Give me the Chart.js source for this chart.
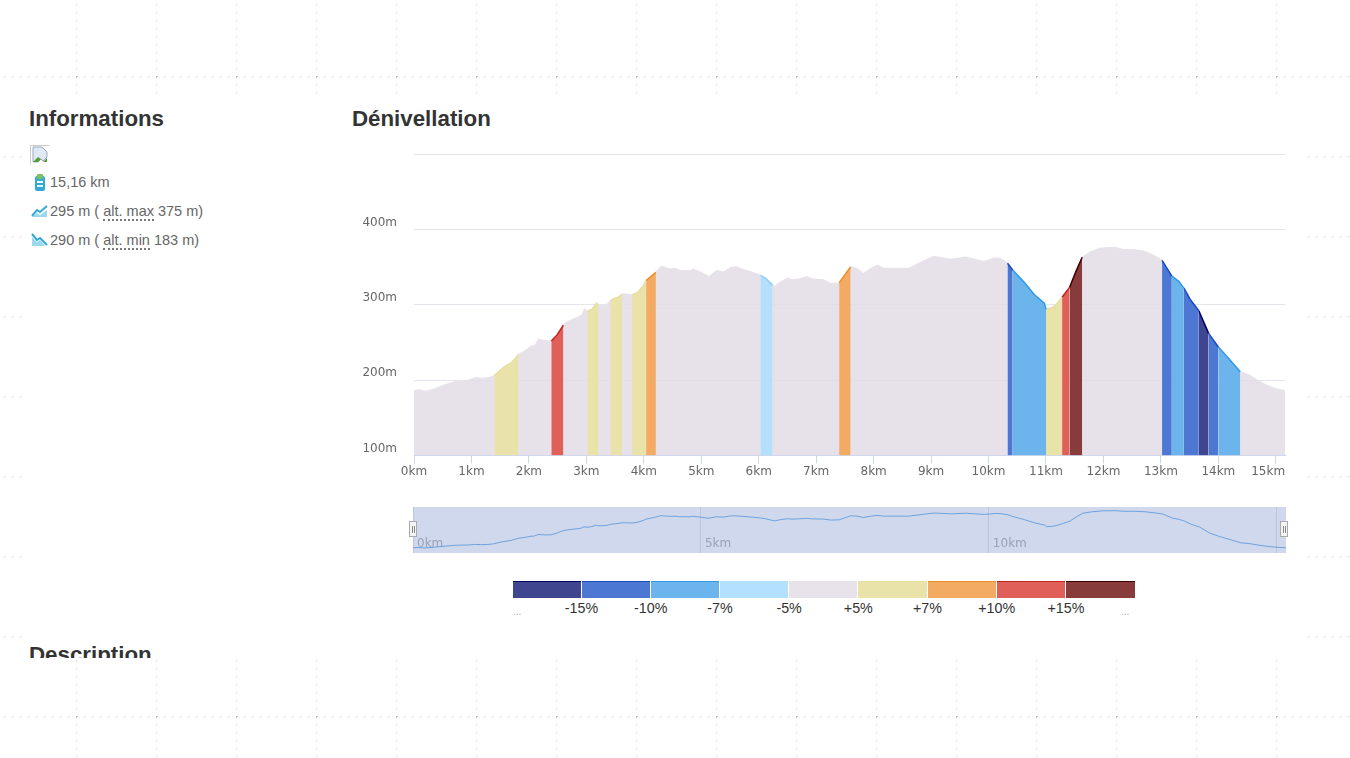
<!DOCTYPE html>
<html lang="fr">
<head>
<meta charset="utf-8">
<title>Dénivellation</title>
<script src="https://cdn.jsdelivr.net/npm/chart.js@4"></script>
<style>
    html, body { margin: 0; padding: 0; width: 1350px; height: 758px; overflow: hidden; background: #fff; }
    body {
        font-family: "Liberation Sans", Arial, sans-serif;
        color: #666;
        background-image: url("data:image/svg+xml,%3Csvg xmlns='http://www.w3.org/2000/svg' width='80' height='80'%3E%3Cdefs%3E%3Cpath id='d' d='M-1.5 0H1.5M0 -1.5V1.5' stroke='%23ececec' stroke-width='1'/%3E%3C/defs%3E%3Cg transform='translate(.5 .5)'%3E%3Cuse href='%23d' x='8'/%3E%3Cuse href='%23d' x='16'/%3E%3Cuse href='%23d' x='24'/%3E%3Cuse href='%23d' x='32'/%3E%3Cuse href='%23d' x='40'/%3E%3Cuse href='%23d' x='48'/%3E%3Cuse href='%23d' x='56'/%3E%3Cuse href='%23d' x='64'/%3E%3Cuse href='%23d' x='72'/%3E%3Cuse href='%23d' y='8'/%3E%3Cuse href='%23d' y='16'/%3E%3Cuse href='%23d' y='24'/%3E%3Cuse href='%23d' y='32'/%3E%3Cuse href='%23d' y='40'/%3E%3Cuse href='%23d' y='48'/%3E%3Cuse href='%23d' y='56'/%3E%3Cuse href='%23d' y='64'/%3E%3Cuse href='%23d' y='72'/%3E%3Cpath d='M-1.5 0H1.5M0 -1.5V1.5' stroke='%23bbb' stroke-width='1'/%3E%3C/g%3E%3C/svg%3E");
        background-position: 76px 76px;
    }
    #panel { position: absolute; left: 22px; top: 95px; width: 1284px; height: 563px; background: #fff; overflow: hidden; }
    h2 { position: absolute; margin: 0; font-size: 22.3px; line-height: 28px; font-weight: bold; color: #333; white-space: nowrap; }
    .info { position: absolute; left: 28px; font-size: 14.5px; line-height: 18px; color: #666; white-space: nowrap; }
    .info abbr { text-decoration: none; border-bottom: 2px dotted #777; }
    .icon { position: absolute; }
    canvas { position: absolute; display: block; }
    .handle { position: absolute; top: 521px; width: 6px; height: 14px; background: #f4f4f4; border: 1.5px solid #aaa; }
    .handle::before { content: ""; position: absolute; left: 1.5px; top: 3.5px; width: 1px; height: 7px; background: #888; box-shadow: 2px 0 0 #888; }
    #legendBars { position: absolute; left: 513px; top: 581px; width: 623px; height: 17px; display: flex; gap: 1px; }
    #legendBars div { flex: none; width: 68.1px; box-sizing: border-box; border-top: 1px solid; }
    #legendBars div:last-child { width: 69.1px; }
    .legendLabel { position: absolute; top: 600px; width: 70px; margin-left: -35px; text-align: center; font-size: 14.3px; line-height: 16px; color: #333; }
    .dots { position: absolute; top: 606px; font-size: 10px; line-height: 12px; color: #aaa; }
</style>
</head>
<body>
<div id="panel">
    <h2 style="left:7px;top:10px">Informations</h2>
    <h2 style="left:330px;top:10px">Dénivellation</h2>
    <h2 style="left:7px;top:546px">Description</h2>

    <svg class="icon" style="left:8px;top:50px" width="20" height="20" viewBox="0 0 20 20">
        <path d="M.5 19.5V.5H19.5" fill="none" stroke="#ccc"/>
        <path d="M3 2h9l5 5v5l-4 4-2-2-3 3H3z" fill="#dfe9f6" stroke="#9ab"/>
        <path d="M3 17l5-5 3 2-3 3z" fill="#5a9a3c"/>
        <path d="M13 17l4-4v4z" fill="#5a9a3c"/>
    </svg>
    <svg class="icon" style="left:11px;top:79px" width="14" height="17" viewBox="0 0 14 17">
        <rect x="2" y="2" width="10" height="15" rx="2" fill="#35a8d8"/>
        <rect x="4" y="0" width="6" height="5" rx="1" fill="#7cc060"/>
        <rect x="4" y="7" width="6" height="2" fill="#fff"/>
        <rect x="4" y="11" width="6" height="2" fill="#dff"/>
    </svg>
    <svg class="icon" style="left:9px;top:108px" width="18" height="15" viewBox="0 0 18 15">
        <path d="M1 13l5-6 3 2 7-6" fill="none" stroke="#35a8d8" stroke-width="2"/>
        <path d="M1 14l5-4 3 2 7-5v7z" fill="#9bd8ee"/>
    </svg>
    <svg class="icon" style="left:9px;top:137px" width="18" height="15" viewBox="0 0 18 15">
        <path d="M1 2l5 6 3-2 7 7" fill="none" stroke="#35a8d8" stroke-width="2"/>
        <path d="M1 5l5 5 3-2 5 6H1z" fill="#9bd8ee"/>
    </svg>
    <div class="info" style="top:78px">15,16 km</div>
    <div class="info" style="top:107px">295 m ( <abbr>alt. max</abbr> 375 m)</div>
    <div class="info" style="top:136px">290 m ( <abbr>alt. min</abbr> 183 m)</div>
</div>

<canvas id="profileChart" width="950" height="345" style="left:350px;top:140px"></canvas>
<canvas id="navChart" width="873" height="46" style="left:413px;top:507px"></canvas>
<div class="handle" style="left:409px"></div>
<div class="handle" style="left:1280px"></div>

<div id="legendBars"></div>
<div id="legendText"></div>

<script>
const distanceKm = [
    0, 0.09, 0.2, 0.35, 0.52, 0.75, 0.96, 1.07, 1.19, 1.3, 1.4, 1.56, 1.71, 1.82, 1.94, 2.05, 2.11, 2.17, 2.29, 2.39,
    2.49, 2.6, 2.66, 2.81, 2.92, 2.97, 3.02, 3.1, 3.18, 3.21, 3.3, 3.37, 3.42, 3.47, 3.56, 3.62, 3.71, 3.79, 3.89, 4.0,
    4.04, 4.21, 4.31, 4.37, 4.46, 4.55, 4.63, 4.81, 4.86, 4.99, 5.13, 5.27, 5.39, 5.51, 5.6, 5.71, 5.89, 6.03, 6.12, 6.24,
    6.28, 6.38, 6.5, 6.58, 6.7, 6.84, 6.93, 7.13, 7.25, 7.4, 7.51, 7.6, 7.71, 7.82, 7.95, 8.07, 8.18, 8.61, 8.82, 9.05,
    9.34, 9.6, 9.92, 10.12, 10.21, 10.33, 10.42, 10.62, 10.79, 10.97, 11.0, 11.11, 11.2, 11.28, 11.41, 11.52, 11.63, 11.78, 11.95, 12.21,
    12.33, 12.53, 12.7, 12.88, 13.02, 13.19, 13.31, 13.4, 13.51, 13.66, 13.83, 14.0, 14.21, 14.38, 14.53, 14.67, 14.84, 15.02, 15.16
];
const altitudeM = [
    186, 187, 185, 188, 193, 199, 200, 203, 202, 203, 206, 217, 224, 234, 239, 245, 246, 254, 252, 252,
    260, 273, 277, 282, 286, 294, 291, 294, 302, 299, 299, 301, 305, 308, 310, 314, 314, 313, 316, 326,
    332, 343, 351, 349, 347, 348, 345, 345, 347, 343, 337, 345, 343, 349, 350, 347, 343, 339, 335, 326,
    324, 330, 335, 333, 334, 337, 334, 333, 328, 329, 341, 350, 348, 341, 348, 352, 348, 348, 356, 364,
    360, 363, 357, 362, 361, 355, 346, 330, 314, 302, 294, 296, 302, 310, 323, 344, 363, 370, 375, 376,
    373, 373, 371, 365, 359, 338, 331, 322, 307, 292, 262, 244, 226, 211, 207, 200, 193, 188, 186
];

// tronçons colorés : début, fin, classe de pente
const segmentStart = [1.4, 2.39, 3.02, 3.42, 3.79, 4.04, 6.03, 7.4, 10.33, 10.42, 11.0, 11.28, 11.41, 13.02, 13.19, 13.4, 13.66, 13.83, 14.0];
const segmentEnd = [1.82, 2.6, 3.21, 3.62, 4.04, 4.21, 6.24, 7.6, 10.42, 11.0, 11.28, 11.41, 11.63, 13.19, 13.4, 13.66, 13.83, 14.0, 14.38];
const segmentClass = ["+5", "+10", "+5", "+5", "+5", "+7", "-5", "+7", "-10", "-7", "+5", "+10", "+15", "-10", "-7", "-10", "-15", "-10", "-7"];

const xTickLabels = ["0km", "1km", "2km", "3km", "4km", "5km", "6km", "7km", "8km", "9km", "10km", "11km", "12km", "13km", "14km", "15km"];
const yTickLabels = ["100m", "200m", "300m", "400m", ""];
const navTickLabels = ["0km", "5km", "10km", ""];

const legendClasses = ["-15", "-10", "-7", "-5", "0", "+5", "+7", "+10", "+15"];
const legendLabels = ["-15%", "-10%", "-7%", "-5%", "+5%", "+7%", "+10%", "+15%"];

const fillColors = {
    "-15": "#40458f", "-10": "#4c78d4", "-7": "#6cb4ec", "-5": "#b3e1fd", "0": "#e8e2ea",
    "+5": "#e9e2a9", "+7": "#f3ab63", "+10": "#e06059", "+15": "#873b3a"
};
const lineColors = {
    "-15": "#000066", "-10": "#1a4cc0", "-7": "#2f9ae8", "-5": "#8ed0fa", "0": "#e8e2ea",
    "+5": "#e8dfa0", "+7": "#ee8f25", "+10": "#c42222", "+15": "#3c0000"
};

const profilePoints = distanceKm.map((km, i) => ({ x: km, y: altitudeM[i] }));
const axisFont = { family: "'DejaVu Sans', sans-serif", size: 12 };

// un dataset par tronçon, pris dans les mêmes tableaux
const segmentDatasets = segmentStart.map((start, i) => ({
    data: profilePoints.filter(p => p.x >= start && p.x <= segmentEnd[i]),
    borderColor: lineColors[segmentClass[i]],
    backgroundColor: fillColors[segmentClass[i]],
    borderWidth: 1.5,
    pointRadius: 0,
    fill: "origin",
    order: 1
}));

const profileChart = new Chart(document.getElementById("profileChart"), {
    type: "line",
    data: {
        datasets: [{
            data: profilePoints,
            borderColor: "#e8e2ea",
            backgroundColor: "rgba(226, 219, 228, 0.82)",
            borderWidth: 1.5,
            pointRadius: 0,
            fill: "origin",
            order: 10
        }, ...segmentDatasets]
    },
    options: {
        responsive: false,
        animation: false,
        layout: { padding: { top: 14, right: 15 } },
        plugins: { legend: { display: false }, tooltip: { enabled: false } },
        scales: {
            x: {
                type: "linear",
                min: 0,
                max: 15.16,
                afterFit: scale => {
                    scale.height = 29.5;
                    scale.paddingLeft = 0;
                    scale.paddingRight = 0;
                },
                grid: { drawOnChartArea: false, tickLength: 8, tickColor: "#ccd6eb" },
                border: { color: "#ccd6eb" },
                ticks: {
                    stepSize: 1,
                    includeBounds: false,
                    autoSkip: false,
                    maxRotation: 0,
                    padding: 1,
                    color: "#666",
                    font: axisFont,
                    // le dernier libellé reste dans le cadre (comme "15km" à droite)
                    callback: (value, index) => index === 15 ? xTickLabels[index] + "\u00a0\u00a0\u00a0\u00a0" : xTickLabels[index]
                }
            },
            y: {
                min: 100,
                max: 500,
                afterFit: scale => {
                    scale.width = 64;
                    scale.paddingTop = 0;
                    scale.paddingBottom = 0;
                },
                grid: { color: "#e4e6ee", drawTicks: false },
                border: { display: false },
                ticks: {
                    stepSize: 100,
                    padding: 17,
                    labelOffset: -7,
                    color: "#666",
                    font: axisFont,
                    callback: (value, index) => yTickLabels[index]
                }
            }
        }
    }
});

// navigateur sous le graphique
const navChart = new Chart(document.getElementById("navChart"), {
    type: "line",
    data: {
        datasets: [{
            data: profilePoints,
            borderColor: "#6ea3e0",
            borderWidth: 1,
            pointRadius: 0,
            fill: false
        }]
    },
    options: {
        responsive: false,
        animation: false,
        layout: { padding: 0 },
        plugins: {
            legend: { display: false },
            tooltip: { enabled: false },
            navBackground: { color: "#cfd8ec" }
        },
        scales: {
            x: {
                type: "linear",
                min: 0,
                max: 15.16,
                afterFit: scale => {
                    scale.height = 0;
                    scale.paddingLeft = 0;
                    scale.paddingRight = 0;
                },
                grid: { color: "#bcc6dc", drawTicks: false },
                border: { display: false },
                ticks: {
                    stepSize: 5,
                    includeBounds: false,
                    autoSkip: false,
                    maxRotation: 0,
                    mirror: true,
                    align: "start",
                    labelOffset: 4,
                    padding: 2,
                    color: "#98a2b8",
                    font: axisFont,
                    callback: (value, index) => navTickLabels[index]
                }
            },
            y: { display: false, min: 159, max: 395 }
        }
    },
    plugins: [{
        id: "navBackground",
        beforeDraw(chart, args, opts) {
            const { ctx, width, height } = chart;
            ctx.save();
            ctx.fillStyle = opts.color;
            ctx.fillRect(0, 0, width, height);
            ctx.restore();
        }
    }]
});

// légende des pentes
const legendBars = document.getElementById("legendBars");
const legendText = document.getElementById("legendText");
legendClasses.forEach(cls => {
    const bar = document.createElement("div");
    bar.style.background = fillColors[cls];
    bar.style.borderTopColor = cls === "0" || cls === "-5" ? fillColors[cls] : lineColors[cls];
    legendBars.appendChild(bar);
});
legendLabels.forEach((text, i) => {
    const label = document.createElement("div");
    label.className = "legendLabel";
    label.textContent = text;
    label.style.left = (581.5 + i * 69.2) + "px";
    legendText.appendChild(label);
});
["513px", "1121px"].forEach(left => {
    const dots = document.createElement("div");
    dots.className = "dots";
    dots.style.left = left;
    dots.textContent = "...";
    legendText.appendChild(dots);
});
</script>
</body>
</html>
